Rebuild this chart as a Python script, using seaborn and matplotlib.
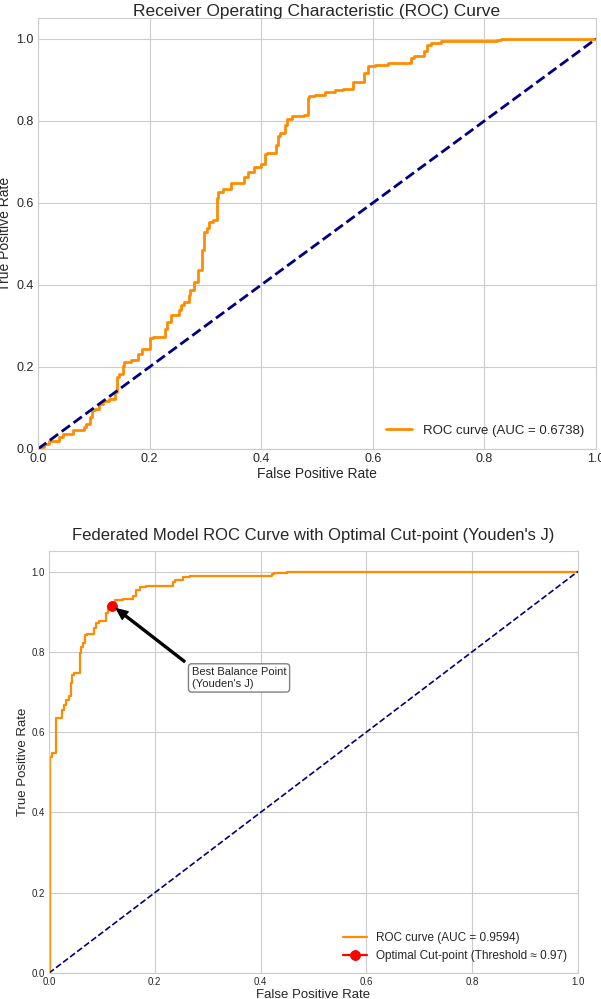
from matplotlib import pyplot as plt
import pandas as pd
import seaborn as sns

sns.set_style("whitegrid")
plt.rcParams['font.family'] = ['Liberation Sans', 'DejaVu Sans']

# -----------------------------
# data

# first model: ROC curve points (fpr, tpr)
fpr_1 = [0.0, 0.01, 0.02, 0.038, 0.045, 0.062, 0.066, 0.083, 0.086, 0.093,
         0.097, 0.102, 0.11, 0.117, 0.128, 0.138, 0.142, 0.145, 0.152, 0.155,
         0.166, 0.18, 0.187, 0.2, 0.206, 0.227, 0.231, 0.238, 0.252, 0.256,
         0.261, 0.27, 0.273, 0.28, 0.287, 0.294, 0.297, 0.303, 0.307, 0.314,
         0.321, 0.323, 0.331, 0.345, 0.352, 0.369, 0.376, 0.387, 0.399, 0.407,
         0.411, 0.427, 0.43, 0.434, 0.442, 0.446, 0.456, 0.477, 0.483, 0.485,
         0.497, 0.514, 0.532, 0.546, 0.565, 0.584, 0.591, 0.604, 0.628, 0.668,
         0.673, 0.691, 0.698, 0.704, 0.722, 0.739, 0.822, 0.829, 0.87, 1.0]
tpr_1 = [0.0, 0.005, 0.012, 0.02, 0.03, 0.037, 0.045, 0.045, 0.053, 0.061,
         0.077, 0.094, 0.098, 0.11, 0.118, 0.122, 0.139, 0.175, 0.183, 0.202,
         0.212, 0.218, 0.232, 0.244, 0.27, 0.273, 0.293, 0.31, 0.326, 0.338,
         0.35, 0.359, 0.375, 0.387, 0.407, 0.436, 0.485, 0.53, 0.538, 0.554,
         0.558, 0.611, 0.626, 0.634, 0.648, 0.648, 0.664, 0.676, 0.688, 0.694,
         0.72, 0.721, 0.741, 0.762, 0.77, 0.79, 0.805, 0.811, 0.815, 0.856,
         0.86, 0.864, 0.87, 0.875, 0.878, 0.894, 0.917, 0.933, 0.937, 0.941,
         0.954, 0.958, 0.97, 0.984, 0.99, 0.994, 0.994, 0.998, 1.0, 1.0]
auc_1 = 0.6738

# federated model: ROC curve points (fpr, tpr)
fpr_2 = [0.0, 0.002, 0.002, 0.006, 0.013, 0.013, 0.017, 0.025, 0.028, 0.033,
         0.037, 0.042, 0.044, 0.047, 0.059, 0.06, 0.064, 0.069, 0.072, 0.085,
         0.089, 0.095, 0.107, 0.111, 0.118, 0.125, 0.14, 0.158, 0.165, 0.172,
         0.183, 0.197, 0.234, 0.239, 0.254, 0.266, 0.284, 0.342, 0.422, 0.425,
         0.45, 0.465, 1.0]
tpr_2 = [0.0, 0.0, 0.535, 0.539, 0.548, 0.627, 0.635, 0.635, 0.656, 0.668,
         0.68, 0.689, 0.722, 0.743, 0.747, 0.797, 0.813, 0.822, 0.842, 0.844,
         0.859, 0.871, 0.876, 0.896, 0.913, 0.921, 0.929, 0.931, 0.938, 0.953,
         0.961, 0.964, 0.964, 0.975, 0.98, 0.986, 0.988, 0.988, 0.989, 0.994,
         0.996, 1.0, 1.0]
auc_2 = 0.9594

best_fpr = [0.12]
best_tpr = [0.915]
best_threshold = 0.97

chance = [0.0, 1.0]

roc_1 = pd.DataFrame({'fpr': fpr_1, 'tpr': tpr_1})
roc_2 = pd.DataFrame({'fpr': fpr_2, 'tpr': tpr_2})
best = pd.DataFrame({'fpr': best_fpr, 'tpr': best_tpr})
diag = pd.DataFrame({'x': chance, 'y': chance})

fig = plt.figure(figsize=(6.01, 9.99), dpi=100)

# -----------------------------

ax1 = fig.add_axes([0.0632, 0.5506, 0.9285, 0.431])
sns.lineplot(data=roc_1, x='fpr', y='tpr', ax=ax1, sort=False, estimator=None,
             color='darkorange', lw=2, drawstyle='steps-pre',
             label=f"ROC curve (AUC = {auc_1:.4f})")
sns.lineplot(data=diag, x='x', y='y', ax=ax1, sort=False, estimator=None,
             color='navy', lw=2, linestyle='--')
ax1.set_xlim(0.0, 1.0)
ax1.set_ylim(0.0, 1.05)
ax1.tick_params(labelsize=9, length=0, pad=3)
ax1.set_xlabel("False Positive Rate", fontsize=10, labelpad=1)
ax1.set_ylabel("True Positive Rate", fontsize=10, labelpad=3)
ax1.set_title("Receiver Operating Characteristic (ROC) Curve", fontsize=12.5, pad=2)
ax1.legend(loc='lower right', fontsize=9.5, frameon=False)

# -----------------------------

ax2 = fig.add_axes([0.0815, 0.026, 0.880, 0.422])
sns.lineplot(data=roc_2, x='fpr', y='tpr', ax=ax2, sort=False, estimator=None,
             color='darkorange', lw=1.6, drawstyle='steps-pre',
             label=f"ROC curve (AUC = {auc_2:.4f})")
sns.lineplot(data=diag, x='x', y='y', ax=ax2, sort=False, estimator=None,
             color='navy', lw=1.2, linestyle='--')
sns.lineplot(data=best, x='fpr', y='tpr', ax=ax2, color='red', marker='o',
             markersize=7, markeredgecolor='red', lw=1.6,
             label=f"Optimal Cut-point (Threshold \u2248 {best_threshold:.2f})")
ax2.annotate("Best Balance Point\n(Youden's J)",
             xy=(best_fpr[0], best_tpr[0]), xytext=(0.27, 0.735),
             fontsize=8, color='.15', va='center', ha='left',
             bbox=dict(boxstyle='round,pad=0.3', fc='white', ec='gray', lw=1),
             arrowprops=dict(facecolor='black', edgecolor='black', shrink=0.05,
                             width=1.4, headwidth=7, headlength=8))
ax2.set_xlim(0.0, 1.0)
ax2.set_ylim(0.0, 1.05)
ax2.tick_params(labelsize=7, length=0, pad=3)
ax2.set_xlabel("False Positive Rate", fontsize=9.5, labelpad=1)
ax2.set_ylabel("True Positive Rate", fontsize=9.5, labelpad=2)
ax2.set_title("Federated Model ROC Curve with Optimal Cut-point (Youden's J)", fontsize=12, pad=8)
ax2.legend(loc='lower right', fontsize=8.5, frameon=False)

path = "out.png"
plt.savefig(path, dpi=100)
print(f"Saved figure to {path}.")
plt.close()
